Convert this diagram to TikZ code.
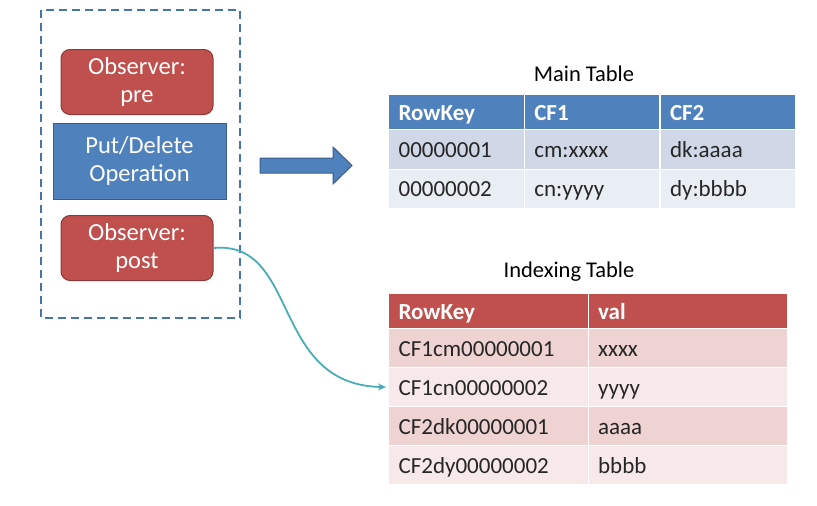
\documentclass[tikz,border=0pt]{standalone}
\usepackage{fontspec}
\setmainfont{Carlito}
\usetikzlibrary{positioning,arrows.meta}
\definecolor{obsred}{HTML}{C0504D}
\definecolor{obsedge}{HTML}{8C3A38}
\definecolor{opblue}{HTML}{4F81BD}
\definecolor{opedge}{HTML}{385D8A}
\definecolor{linkteal}{HTML}{4AACB8}
\definecolor{mrow1}{HTML}{D0D8E8}
\definecolor{mrow2}{HTML}{E9EDF4}
\definecolor{irow1}{HTML}{EFD3D2}
\definecolor{irow2}{HTML}{F7E9E9}
\definecolor{celltext}{HTML}{262626}
\begin{document}
\begin{tikzpicture}[x=1pt, y=-1pt,
    box/.style={line width=1pt, align=center, text=white, font={\fontsize{24.5}{28}\selectfont}},
    obsbox/.style={box, draw=obsedge, fill=obsred, rounded corners=9pt, minimum width=152pt, minimum height=65pt},
    opbox/.style={box, draw=opedge, fill=opblue, minimum width=173pt, minimum height=76pt},
    cell/.style={anchor=north west, draw=white, line width=1.2pt, inner xsep=10pt, align=left, text=celltext,
      text height=17pt, text depth=1pt, font={\fontsize{23}{26}\selectfont}},
    headcell/.style={cell, text=white, font={\fontsize{23}{26}\selectfont\bfseries}},
    ttl/.style={font={\fontsize{22.5}{26}\selectfont}}]
  \useasboundingbox (0,0) rectangle (817,506);
  % observer group
  \draw[opblue!90!black, line width=1.8pt, dash pattern=on 8pt off 5pt] (41,10) rectangle (240,318);
  \node[obsbox] (pre) at (137,82) {Observer:\\pre};
  \node[opbox] (op) at (139.5,161) {Put/Delete\\Operation};
  \node[obsbox] (post) at (137,248) {Observer:\\post};
  % block arrow
  \draw[fill=opblue, draw=opedge, line width=1pt] (260,158) -- (333,158) -- (333,147) -- (352,165.5)
    -- (333,184) -- (333,173) -- (260,173) -- cycle;
  % main table
  \node[ttl] (mtitle) at (584,74) {Main Table};
  \foreach \txt [count=\c from 0] in {RowKey,CF1,CF2} {
    \node[headcell, fill=opblue, text width=115.7pt, minimum height=35pt] (m-0-\c) at (388+\c*135.7,94) {\txt};
  }
  \foreach \row [count=\r] in {{00000001,cm:xxxx,dk:aaaa},{00000002,cn:yyyy,dy:bbbb}} {
    \foreach \txt [count=\c from 0] in \row {
      \node[cell, fill=mrow\r, text width=115.7pt, minimum height=39.5pt] (m-\r-\c) at (388+\c*135.7,129+\r*39.5-39.5) {\txt};
    }
  }
  % indexing table
  \node[ttl] (ititle) at (569,272) {Indexing Table};
  \foreach \txt [count=\c from 0] in {RowKey,val} {
    \node[headcell, fill=obsred, text width=179.5pt, minimum height=35pt] (ix-0-\c) at (388+\c*199.5,293) {\txt};
  }
  \foreach \row [count=\r] in {{CF1cm00000001,xxxx},{CF1cn00000002,yyyy},{CF2dk00000001,aaaa},{CF2dy00000002,bbbb}} {
    \pgfmathtruncatemacro{\shade}{2-mod(\r,2)}
    \foreach \txt [count=\c from 0] in \row {
      \node[cell, fill=irow\shade, text width=179.5pt, minimum height=39pt] (ix-\r-\c) at (388+\c*199.5,328+\r*39-39) {\txt};
    }
  }
  % link from post observer
  \draw[linkteal, line width=1.8pt, -{Stealth[length=8pt, width=7pt]}, shorten >=2pt]
    (post.east) .. controls (300,240) and (270,385) .. (ix-2-0.west);
\end{tikzpicture}
\end{document}
